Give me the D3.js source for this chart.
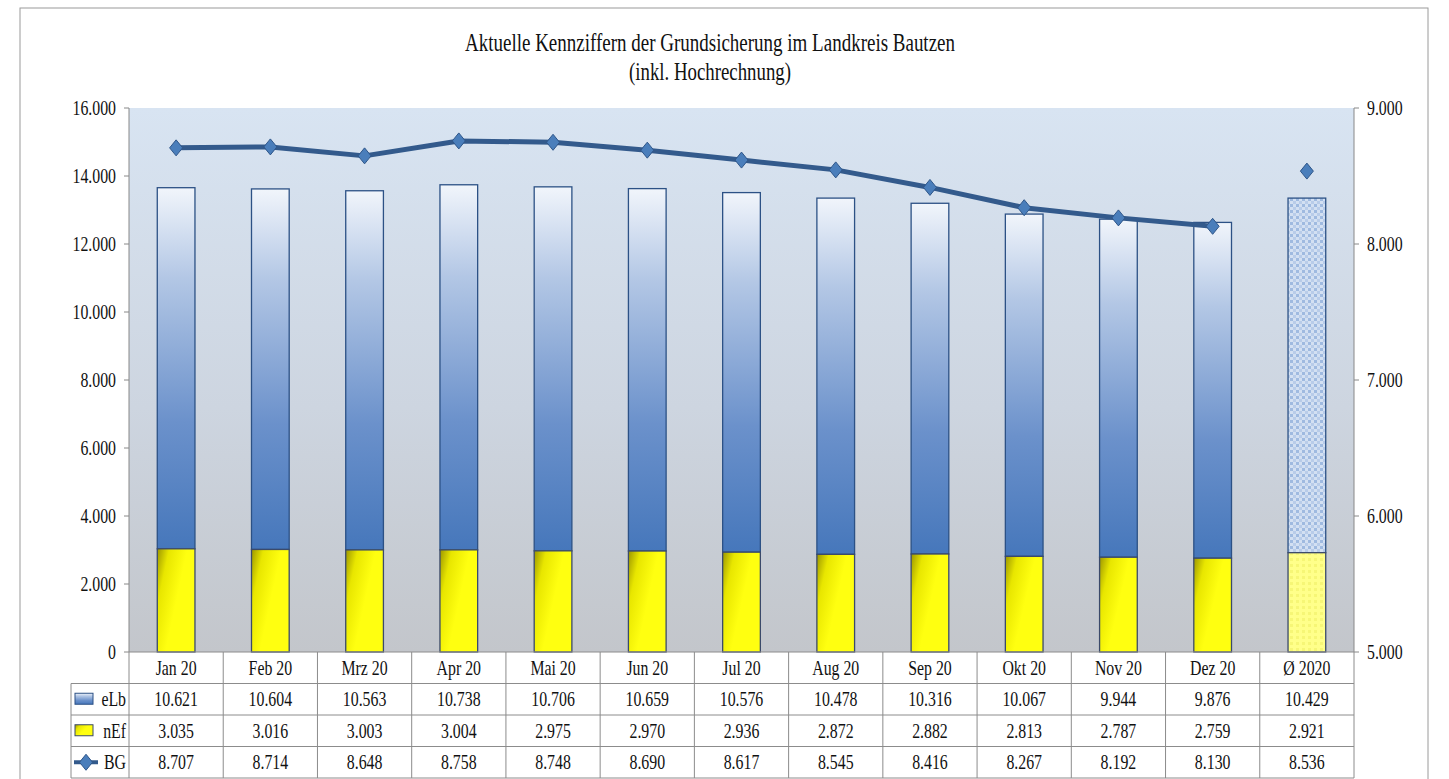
<!DOCTYPE html>
<html>
<head>
<meta charset="utf-8">
<script src="https://cdn.jsdelivr.net/npm/d3@7"></script>
<style>
  body { margin:0; background:#fff; }
  svg { display:block; }
</style>
</head>
<body>
<svg id="chart" width="1449" height="779"></svg>
<script>
'use strict';

var categories = ['Jan 20','Feb 20','Mrz 20','Apr 20','Mai 20','Jun 20','Jul 20','Aug 20','Sep 20','Okt 20','Nov 20','Dez 20','\u00d8 2020'];
var eLb = [10621,10604,10563,10738,10706,10659,10576,10478,10316,10067,9944,9876,10429];
var nEf = [3035,3016,3003,3004,2975,2970,2936,2872,2882,2813,2787,2759,2921];
var BG  = [8707,8714,8648,8758,8748,8690,8617,8545,8416,8267,8192,8130,8536];
var leftTicks = [0,2000,4000,6000,8000,10000,12000,14000,16000];
var rightTicks = [5000,6000,7000,8000,9000];
var titleLines = ['Aktuelle Kennziffern der Grundsicherung im Landkreis Bautzen','(inkl. Hochrechnung)'];

var svg = d3.select('#chart');
var pLeft = 129, pRight = 1354, pTop = 108, pBottom = 652, rowH = 31.5;
var fmt = function(v){ return d3.format(',')(v).replace(/,/g,'.'); };
var serif = '"Liberation Serif"';
var sx = 0.72; // narrow serif look

var x = d3.scaleBand().domain(categories).range([pLeft,pRight]).padding(0);
var yL = d3.scaleLinear().domain([0,16000]).range([pBottom,pTop]);
var yR = d3.scaleLinear().domain([5000,9000]).range([pBottom,pTop]);
var barW = x.bandwidth()*0.4;

function txt(g, px, py, s, size, anchor){
  return g.append('text')
      .attr('transform','translate('+px+','+py+') scale('+sx+',1)')
      .style('font-family', serif)
      .style('font-size', size+'px')
      .style('text-anchor', anchor||'middle')
      .style('fill','#111')
      .text(s);
}

// gradients and patterns
var defs = svg.append('defs');
var bg = defs.append('linearGradient').attr('id','plotbg').attr('x1',0).attr('y1',0).attr('x2',0).attr('y2',1);
bg.append('stop').attr('offset','0%').attr('stop-color','#d8e4f2');
bg.append('stop').attr('offset','55%').attr('stop-color','#cdd5e0');
bg.append('stop').attr('offset','100%').attr('stop-color','#c3c6cb');

var gb = defs.append('linearGradient').attr('id','blue').attr('x1',0).attr('y1',0).attr('x2',0).attr('y2',1);
gb.append('stop').attr('offset','0%').attr('stop-color','#f1f5fb');
gb.append('stop').attr('offset','25%').attr('stop-color','#b3c7e5');
gb.append('stop').attr('offset','65%').attr('stop-color','#6b91cb');
gb.append('stop').attr('offset','100%').attr('stop-color','#4677bb');

var gy = defs.append('linearGradient').attr('id','yellow').attr('x1',0).attr('y1',0).attr('x2',0.6).attr('y2',0.35);
gy.append('stop').attr('offset','0%').attr('stop-color','#9c9600');
gy.append('stop').attr('offset','40%').attr('stop-color','#e8e600');
gy.append('stop').attr('offset','100%').attr('stop-color','#ffff10');

var pb = defs.append('pattern').attr('id','pblue').attr('width',6).attr('height',6).attr('patternUnits','userSpaceOnUse');
pb.append('rect').attr('width',6).attr('height',6).attr('fill','#d3e0f2');
pb.append('rect').attr('width',3).attr('height',3).attr('fill','#9fbae0');
pb.append('rect').attr('x',3).attr('y',3).attr('width',3).attr('height',3).attr('fill','#b8cce9');

var pyl = defs.append('pattern').attr('id','pyellow').attr('width',6).attr('height',6).attr('patternUnits','userSpaceOnUse');
pyl.append('rect').attr('width',6).attr('height',6).attr('fill','#ffff8a');
pyl.append('rect').attr('width',3).attr('height',3).attr('fill','#f6f676');

// frame
svg.append('rect').attr('x',20).attr('y',8).attr('width',1408).attr('height',800)
    .style('fill','#fff').style('stroke','#9a9a9a');

// title
titleLines.forEach(function(t,i){
  svg.append('text')
      .attr('x',710).attr('y',51+i*29)
      .attr('textLength', i ? 162 : 490).attr('lengthAdjust','spacingAndGlyphs')
      .style('font-family', serif)
      .style('font-size','25px').style('text-anchor','middle').style('fill','#111')
      .text(t);
});

// plot area
svg.append('rect').attr('x',pLeft).attr('y',pTop).attr('width',pRight-pLeft).attr('height',pBottom-pTop)
    .style('fill','url(#plotbg)');

// axes
var axL = svg.append('g');
axL.append('line').attr('x1',pLeft).attr('x2',pLeft).attr('y1',pTop).attr('y2',pBottom).style('stroke','#888');
leftTicks.forEach(function(t){
  axL.append('line').attr('x1',pLeft-5).attr('x2',pLeft).attr('y1',yL(t)).attr('y2',yL(t)).style('stroke','#888');
  txt(axL, 116, yL(t)+7, fmt(t), 22, 'end');
});
var axR = svg.append('g');
axR.append('line').attr('x1',pRight).attr('x2',pRight).attr('y1',pTop).attr('y2',pBottom).style('stroke','#888');
rightTicks.forEach(function(t){
  axR.append('line').attr('x1',pRight).attr('x2',pRight+5).attr('y1',yR(t)).attr('y2',yR(t)).style('stroke','#888');
  txt(axR, 1367, yR(t)+7, fmt(t), 22, 'start');
});

// bars
var last = categories.length-1;
var bars = svg.append('g');
categories.forEach(function(c,i){
  var bx = x(c)+(x.bandwidth()-barW)/2;
  bars.append('rect')
      .attr('x',bx).attr('width',barW)
      .attr('y',yL(nEf[i]+eLb[i])).attr('height',yL(nEf[i])-yL(nEf[i]+eLb[i]))
      .style('fill', i===last ? 'url(#pblue)' : 'url(#blue)')
      .style('stroke', '#2c5185').style('stroke-width',1.3);
  bars.append('rect')
      .attr('x',bx).attr('width',barW)
      .attr('y',yL(nEf[i])).attr('height',yL(0)-yL(nEf[i]))
      .style('fill', i===last ? 'url(#pyellow)' : 'url(#yellow)')
      .style('stroke', '#3b4a6a').style('stroke-width',1.3);
});

// BG line (months only), average as single marker
var line = d3.line()
    .x(function(d,i){ return x(categories[i])+x.bandwidth()/2; })
    .y(function(d){ return yR(d); });
svg.append('path').datum(BG.slice(0,last))
    .attr('d',line)
    .style('fill','none').style('stroke','#335a8c').style('stroke-width',5)
    .style('stroke-linejoin','round');

var diamond = 'M0,-8L6.5,0L0,8L-6.5,0Z';
svg.append('g').selectAll('path.mk').data(BG).enter().append('path')
    .attr('class','mk')
    .attr('transform',function(d,i){ return 'translate('+(x(categories[i])+x.bandwidth()/2)+','+yR(d)+')'; })
    .attr('d',diamond)
    .style('fill','#4a7ebb').style('stroke','#2f5689').style('stroke-width',1);

// data table
var tb = svg.append('g');
var tl = 71, rows = [eLb,nEf,BG], names = ['eLb','nEf','BG'];
var grid = '#8c8c8c';
[0,1,2,3,4].forEach(function(r){
  tb.append('line').attr('x1', r===0 ? pLeft : tl).attr('x2',pRight)
      .attr('y1',pBottom+r*rowH).attr('y2',pBottom+r*rowH).style('stroke',grid);
});
tb.append('line').attr('x1',tl).attr('x2',tl).attr('y1',pBottom+rowH).attr('y2',pBottom+4*rowH).style('stroke',grid);
categories.forEach(function(c){
  tb.append('line').attr('x1',x(c)).attr('x2',x(c)).attr('y1',pBottom).attr('y2',pBottom+4*rowH).style('stroke',grid);
});
tb.append('line').attr('x1',pRight).attr('x2',pRight).attr('y1',pBottom).attr('y2',pBottom+4*rowH).style('stroke',grid);

categories.forEach(function(c,i){
  var cx = x(c)+x.bandwidth()/2;
  txt(tb, cx, pBottom+rowH/2+7, c, 22);
  rows.forEach(function(r,j){
    txt(tb, cx, pBottom+(j+1.5)*rowH+7, fmt(r[i]), 22);
  });
});

// legend keys in table
names.forEach(function(n,j){
  var cy = pBottom+(j+1.5)*rowH;
  if (j<2){
    tb.append('rect').attr('x',75).attr('y',cy-6).attr('width',18).attr('height',11)
        .style('fill', j===0 ? 'url(#blue)' : 'url(#yellow)')
        .style('stroke', j===0 ? '#2c5185' : '#3b4a6a');
  } else {
    tb.append('line').attr('x1',74).attr('x2',98).attr('y1',cy).attr('y2',cy)
        .style('stroke','#335a8c').style('stroke-width',4);
    tb.append('path').attr('transform','translate(86,'+cy+')').attr('d',diamond)
        .style('fill','#4a7ebb').style('stroke','#2f5689');
  }
  txt(tb, 126, cy+7, n, 22, 'end');
});
</script>
</body>
</html>
